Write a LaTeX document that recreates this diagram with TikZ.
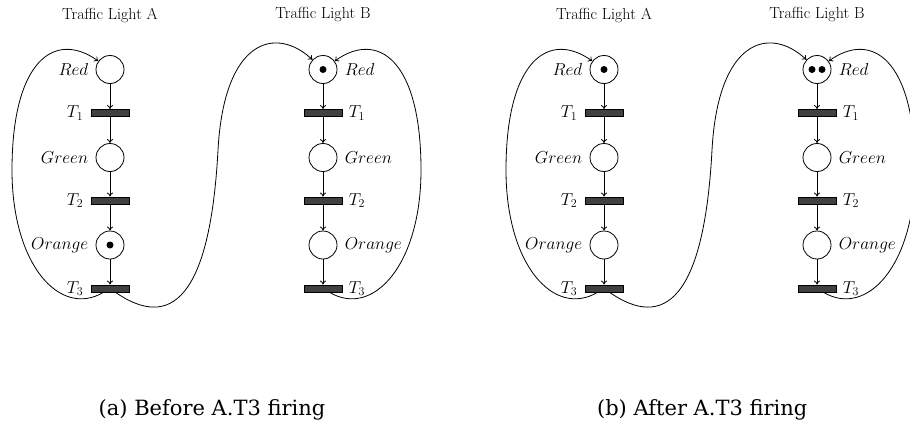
\documentclass[tikz,border=0pt]{standalone}
\usepackage{fontspec}
\newfontfamily\capfont{DejaVu Serif}
\usetikzlibrary{arrows.meta}
\begin{document}
\begin{tikzpicture}[x=1pt,y=-1pt,line width=0.8pt,
  place/.style={circle,draw,minimum size=28pt,inner sep=0pt},
  trans/.style={rectangle,draw,fill=black!75,minimum width=38pt,minimum height=7pt,inner sep=0pt},
  token/.style={circle,fill=black,minimum size=7pt,inner sep=0pt},
  lbl/.style={font=\fontsize{16.9}{20}\selectfont,inner sep=0pt},
  ttl/.style={font=\fontsize{16}{19}\selectfont,inner sep=0pt},
  captext/.style={font=\capfont\fontsize{21}{25}\selectfont,inner sep=0pt},
  arc/.style={-{To[length=4pt,width=6pt]}}]
\useasboundingbox (0,0) rectangle (910,423);
\foreach \p/\dx in {a/0,b/494}{
\begin{scope}[xshift=\dx]
  % titles
  \node[ttl] (\p-titleA) at (110,15) {Traffic Light A};
  \node[ttl] (\p-titleB) at (323,15) {Traffic Light B};
  % light A
  \node[place] (\p-A-red) at (110,69.5) {};
  \node[trans] (\p-A-t1) at (110,113) {};
  \node[place] (\p-A-green) at (110,157.5) {};
  \node[trans] (\p-A-t2) at (110,200.5) {};
  \node[place] (\p-A-orange) at (110,245) {};
  \node[trans] (\p-A-t3) at (110,288.5) {};
  \node[lbl,anchor=east] (\p-A-redl) at ([xshift=-7pt]\p-A-red.west) {$Red$};
  \node[lbl,anchor=east] (\p-A-t1l) at ([xshift=-7pt]\p-A-t1.west) {$T_1$};
  \node[lbl,anchor=east] (\p-A-greenl) at ([xshift=-7pt]\p-A-green.west) {$Green$};
  \node[lbl,anchor=east] (\p-A-t2l) at ([xshift=-7pt]\p-A-t2.west) {$T_2$};
  \node[lbl,anchor=east] (\p-A-orangel) at ([xshift=-7pt]\p-A-orange.west) {$Orange$};
  \node[lbl,anchor=east] (\p-A-t3l) at ([xshift=-7pt]\p-A-t3.west) {$T_3$};
  % light B
  \node[place] (\p-B-red) at (323,69.5) {};
  \node[trans] (\p-B-t1) at (323,113) {};
  \node[place] (\p-B-green) at (323,157.5) {};
  \node[trans] (\p-B-t2) at (323,200.5) {};
  \node[place] (\p-B-orange) at (323,245) {};
  \node[trans] (\p-B-t3) at (323,288.5) {};
  \node[lbl,anchor=west] (\p-B-redl) at ([xshift=7pt]\p-B-red.east) {$Red$};
  \node[lbl,anchor=west] (\p-B-t1l) at ([xshift=6pt]\p-B-t1.east) {$T_1$};
  \node[lbl,anchor=west] (\p-B-greenl) at ([xshift=7pt]\p-B-green.east) {$Green$};
  \node[lbl,anchor=west] (\p-B-t2l) at ([xshift=6pt]\p-B-t2.east) {$T_2$};
  \node[lbl,anchor=west] (\p-B-orangel) at ([xshift=7pt]\p-B-orange.east) {$Orange$};
  \node[lbl,anchor=west] (\p-B-t3l) at ([xshift=6pt]\p-B-t3.east) {$T_3$};
  % straight arcs
  \draw[arc] (\p-A-red) -- (\p-A-t1);
  \draw[arc] (\p-A-t1) -- (\p-A-green);
  \draw[arc] (\p-A-green) -- (\p-A-t2);
  \draw[arc] (\p-A-t2) -- (\p-A-orange);
  \draw[arc] (\p-A-orange) -- (\p-A-t3);
  \draw[arc] (\p-B-red) -- (\p-B-t1);
  \draw[arc] (\p-B-t1) -- (\p-B-green);
  \draw[arc] (\p-B-green) -- (\p-B-t2);
  \draw[arc] (\p-B-t2) -- (\p-B-orange);
  \draw[arc] (\p-B-orange) -- (\p-B-t3);
  % curved arcs
  \draw[arc] (\p-A-t3) .. controls (60,318) and (12,265) .. (12,170)
                       .. controls (12,60) and (55,30) .. (\p-A-red);
  \draw[arc] (\p-A-t3) .. controls (170,330) and (210,300) .. (218,150)
                       .. controls (224,40) and (275,25) .. (\p-B-red);
  \draw[arc] (\p-B-t3) .. controls (373,318) and (421,265) .. (421,170)
                       .. controls (421,60) and (378,30) .. (\p-B-red);
\end{scope}
}
% tokens
\node[token] (tok1) at (a-A-orange) {};
\node[token] (tok2) at (a-B-red) {};
\node[token] (tok3) at (b-A-red) {};
\node[token] (tok4) at ([xshift=-5pt]b-B-red.center) {};
\node[token] (tok5) at ([xshift=5pt]b-B-red.center) {};
% captions
\node[captext,anchor=base west] (capa) at (98.3,415.5) {(a) Before A.T3 firing};
\node[captext,anchor=base west] (capb) at (596.7,415.5) {(b) After A.T3 firing};
\end{tikzpicture}
\end{document}
